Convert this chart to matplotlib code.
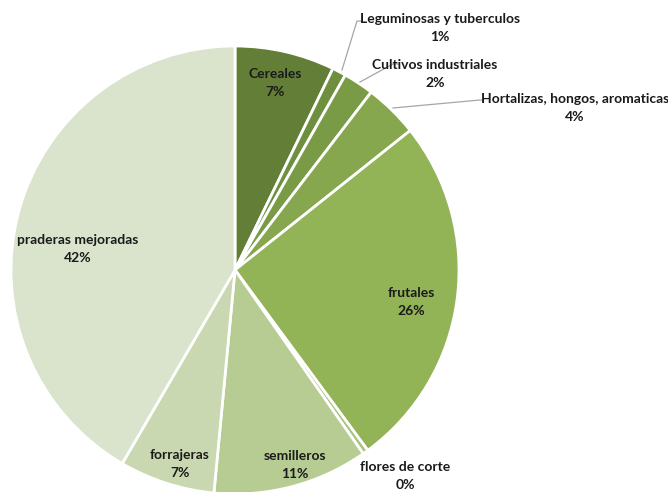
import numpy as np
import matplotlib
matplotlib.use('Agg')
from matplotlib import pyplot as plt

categories = ['Cereales', 'Leguminosas y tuberculos', 'Cultivos industriales',
              'Hortalizas, hongos, aromaticas', 'frutales', 'flores de corte',
              'semilleros', 'forrajeras', 'praderas mejoradas']
shares = [7.2, 1.0, 2.2, 3.9, 25.6, 0.4, 11.2, 6.9, 41.6]
pct_labels = ['7%', '1%', '2%', '4%', '26%', '0%', '11%', '7%', '42%']

colors = ['#637f37', '#6e8f3e', '#7a9b45', '#86a74d', '#92b356', '#a9c27f',
          '#b6cc93', '#c9d8b0', '#dae3cb']

W, H = 668, 492
cx, cy, R = 235, 270, 224


def to_data(x, y):
    return (x - cx) / R, (cy - y) / R


fig = plt.figure(figsize=(W / 100, H / 100), dpi=100)
ax = fig.add_axes([0, 0, 1, 1])

wedges, _ = ax.pie(shares, colors=colors, startangle=90, counterclock=False,
                   wedgeprops=dict(edgecolor='white', linewidth=2))

x0, y0 = to_data(0, H)
x1, y1 = to_data(W, 0)
ax.set_xlim(x0, x1)
ax.set_ylim(y0, y1)
ax.set_aspect('auto')
ax.axis('off')

font = dict(family=['Lato', 'DejaVu Sans'], fontsize=10, fontweight='bold',
            color='#1a1a1a', ha='center', va='center', linespacing=1.6)

# label block centres in pixels, plus leader line paths for the outside ones
label_pos = {
    0: (275, 83),
    1: (440, 28),
    2: (435, 74),
    3: (575, 108),
    4: (411, 302),
    5: (405, 476),
    6: (295, 465),
    7: (180, 464),
    8: (78, 249),
}
leaders = {
    1: [(342, 70), (357, 21), (362, 21)],
    2: [(360, 82), (393, 64), (398, 64)],
    3: [(393, 108), (480, 100), (482, 100)],
}

for i, (px, py) in label_pos.items():
    tx, ty = to_data(px, py)
    ax.text(tx, ty, categories[i] + '\n' + pct_labels[i], **font)

for i, path in leaders.items():
    pts = np.array([to_data(*p) for p in path])
    ax.plot(pts[:, 0], pts[:, 1], color='#a6a6a6', lw=0.9)

fig.savefig('out.png', dpi=100)
